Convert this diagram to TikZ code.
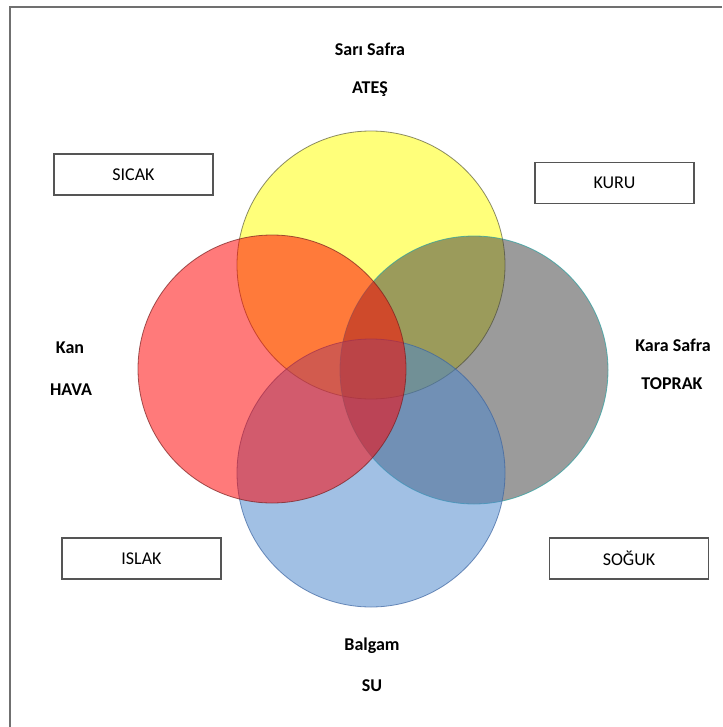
\documentclass[tikz,border=0pt]{standalone}
\usepackage{fontspec}
\setmainfont{Carlito}
\definecolor{framegray}{RGB}{112,112,112}
\definecolor{boxgray}{RGB}{85,85,85}
\definecolor{fireyellow}{RGB}{255,255,0}
\definecolor{fireline}{RGB}{90,90,60}
\definecolor{earthgray}{RGB}{64,64,64}
\definecolor{earthline}{RGB}{40,160,160}
\definecolor{waterblue}{RGB}{75,135,205}
\definecolor{waterline}{RGB}{60,100,160}
\definecolor{bloodred}{RGB}{255,0,0}
\definecolor{bloodline}{RGB}{120,30,30}
\tikzset{
  humour/.style={circle, minimum size=201pt, inner sep=0pt, fill opacity=0.52, draw opacity=0.7, line width=0.6pt},
  quality/.style={draw=boxgray, line width=1.1pt, minimum width=119.25pt, minimum height=30.75pt, inner sep=0pt, font=\fontsize{13.5}{16}\selectfont},
  label/.style={inner sep=0.75pt, font=\fontsize{13.5}{16}\selectfont\bfseries}
}
\begin{document}
\begin{tikzpicture}[x=0.75pt,y=0.75pt,yscale=-1,xscale=1]
\useasboundingbox (0,0) rectangle (722,727);
\fill[white] (0,0) rectangle (722,727);

%Frame
\draw [color=framegray, line width=1.5pt] (10,727) -- (10,7) -- (722,7) ;

%Circles
\node [humour, fill=fireyellow, draw=fireline] (ates) at (371,265) {};
\node [humour, fill=earthgray, draw=earthline] (toprak) at (474,370) {};
\node [humour, fill=waterblue, draw=waterline] (su) at (371,473) {};
\node [humour, fill=bloodred, draw=bloodline] (hava) at (272,369) {};

%Quality boxes
\node [quality] (sicak) at (133.5,174.5) {SICAK};
\node [quality] (kuru) at (614.5,183) {KURU};
\node [quality] (islak) at (141.5,558.5) {ISLAK};
\node [quality] (soguk) at (629,558.5) {SOĞUK};

% Text Node
\node [label] (sarisafra) at (370,49) {Sarı Safra};
% Text Node
\node [label] (atesname) at (370,89) {ATEŞ};
% Text Node
\node [label] (kan) at (70,348) {Kan};
% Text Node
\node [label] (havaname) at (71,390) {HAVA};
% Text Node
\node [label] (karasafra) at (673,345) {Kara Safra};
% Text Node
\node [label] (toprakname) at (672,384) {TOPRAK};
% Text Node
\node [label] (balgam) at (372,646) {Balgam};
% Text Node
\node [label] (suname) at (372,686) {SU};

\end{tikzpicture}
\end{document}
